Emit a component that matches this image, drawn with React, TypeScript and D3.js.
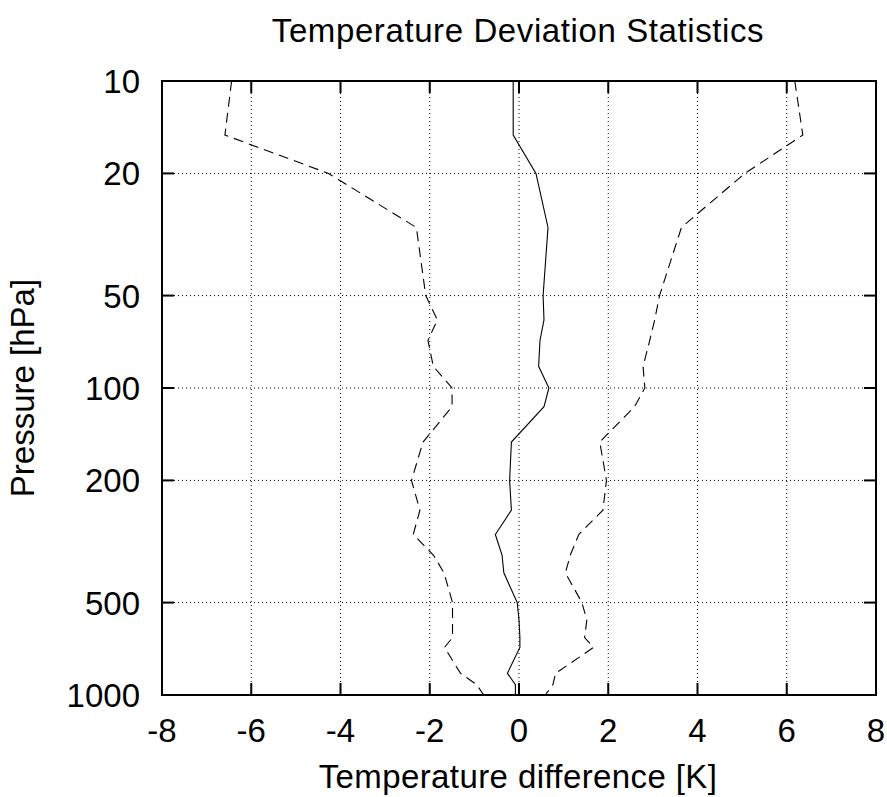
import React from "react";
import * as d3 from "d3";

const pressureLevels = [10, 15, 20, 30, 50, 60, 70, 85, 100, 115, 150, 200, 250, 300, 350, 400, 500, 570, 650, 700, 850, 925, 1000];
const meanDiff = [-0.13, -0.13, 0.38, 0.65, 0.54, 0.56, 0.47, 0.44, 0.67, 0.56, -0.17, -0.21, -0.17, -0.53, -0.38, -0.34, -0.04, 0.0, 0.02, 0.02, -0.26, -0.08, -0.08];
const lowerDiff = [-6.44, -6.59, -4.27, -2.3, -2.09, -1.83, -2.04, -1.92, -1.5, -1.5, -2.15, -2.41, -2.22, -2.37, -1.92, -1.68, -1.49, -1.49, -1.49, -1.67, -1.31, -0.95, -0.79];
const upperDiff = [6.18, 6.36, 5.06, 3.64, 3.15, 3.04, 2.93, 2.78, 2.82, 2.59, 1.81, 1.96, 1.88, 1.34, 1.15, 1.04, 1.41, 1.52, 1.47, 1.67, 0.82, 0.76, 0.59];

const xTicks = [-8, -6, -4, -2, 0, 2, 4, 6, 8];
const yTicks = [10, 20, 50, 100, 200, 500, 1000];

const titleText = "Temperature Deviation Statistics";
const xLabelText = "Temperature difference [K]";
const yLabelText = "Pressure [hPa]";

const W = 887;
const H = 797;
const left = 162;
const right = 876;
const top = 81;
const bottom = 695;
const FONT = "'Liberation Sans', Arial, Helvetica, sans-serif";

export default function App() {
  const x = d3.scaleLinear().domain([-8, 8]).range([left, right]);
  const y = d3.scaleLog().domain([10, 1000]).range([top, bottom]);

  const makeLine = (vals: number[]) =>
    d3
      .line<number>()
      .x((_, i) => x(vals[i]))
      .y((_, i) => y(pressureLevels[i]))(pressureLevels) || "";

  const tickLen = 12;

  return (
    <svg
      width={W}
      height={H}
      style={{ position: "absolute", left: 0, top: 0, display: "block", background: "#fff" }}
      fontFamily={FONT}
    >
      <rect x={0} y={0} width={W} height={H} fill="#fff" />
      {/* grid */}
      <g stroke="#000" strokeWidth={1} strokeDasharray="1,3">
        {xTicks
          .filter((t) => t !== -8 && t !== 8)
          .map((t) => (
            <line key={"gx" + t} x1={x(t)} x2={x(t)} y1={top} y2={bottom} />
          ))}
        {yTicks
          .filter((t) => t !== 10 && t !== 1000)
          .map((t) => (
            <line key={"gy" + t} x1={left} x2={right} y1={y(t)} y2={y(t)} />
          ))}
      </g>
      {/* data */}
      <path d={makeLine(lowerDiff)} fill="none" stroke="#000" strokeWidth={1.1} strokeDasharray="10,6" />
      <path d={makeLine(upperDiff)} fill="none" stroke="#000" strokeWidth={1.1} strokeDasharray="10,6" />
      <path d={makeLine(meanDiff)} fill="none" stroke="#000" strokeWidth={1.1} />
      {/* ticks */}
      <g stroke="#000" strokeWidth={2}>
        {xTicks.map((t) => (
          <g key={"tx" + t}>
            <line x1={x(t)} x2={x(t)} y1={bottom} y2={bottom - tickLen} />
            <line x1={x(t)} x2={x(t)} y1={top} y2={top + tickLen} />
          </g>
        ))}
        {yTicks.map((t) => (
          <g key={"ty" + t}>
            <line x1={left} x2={left + tickLen} y1={y(t)} y2={y(t)} />
            <line x1={right} x2={right - tickLen} y1={y(t)} y2={y(t)} />
          </g>
        ))}
      </g>
      {/* border */}
      <rect x={left} y={top} width={right - left} height={bottom - top} fill="none" stroke="#000" strokeWidth={2} />
      {/* tick labels */}
      <g fontSize={33} fill="#000">
        {xTicks.map((t) => (
          <text key={"lx" + t} x={x(t)} y={bottom + 47} textAnchor="middle">
            {t}
          </text>
        ))}
        {yTicks.map((t) => (
          <text key={"ly" + t} x={140} y={y(t) + 12} textAnchor="end">
            {t}
          </text>
        ))}
      </g>
      <text x={518} y={42} textAnchor="middle" fontSize={33} letterSpacing={0.6} fill="#000">
        {titleText}
      </text>
      <text x={518} y={788} textAnchor="middle" fontSize={33} letterSpacing={0.4} fill="#000">
        {xLabelText}
      </text>
      <text
        transform={`translate(34, ${(top + bottom) / 2}) rotate(-90)`}
        textAnchor="middle"
        fontSize={33}
        fill="#000"
      >
        {yLabelText}
      </text>
    </svg>
  );
}
